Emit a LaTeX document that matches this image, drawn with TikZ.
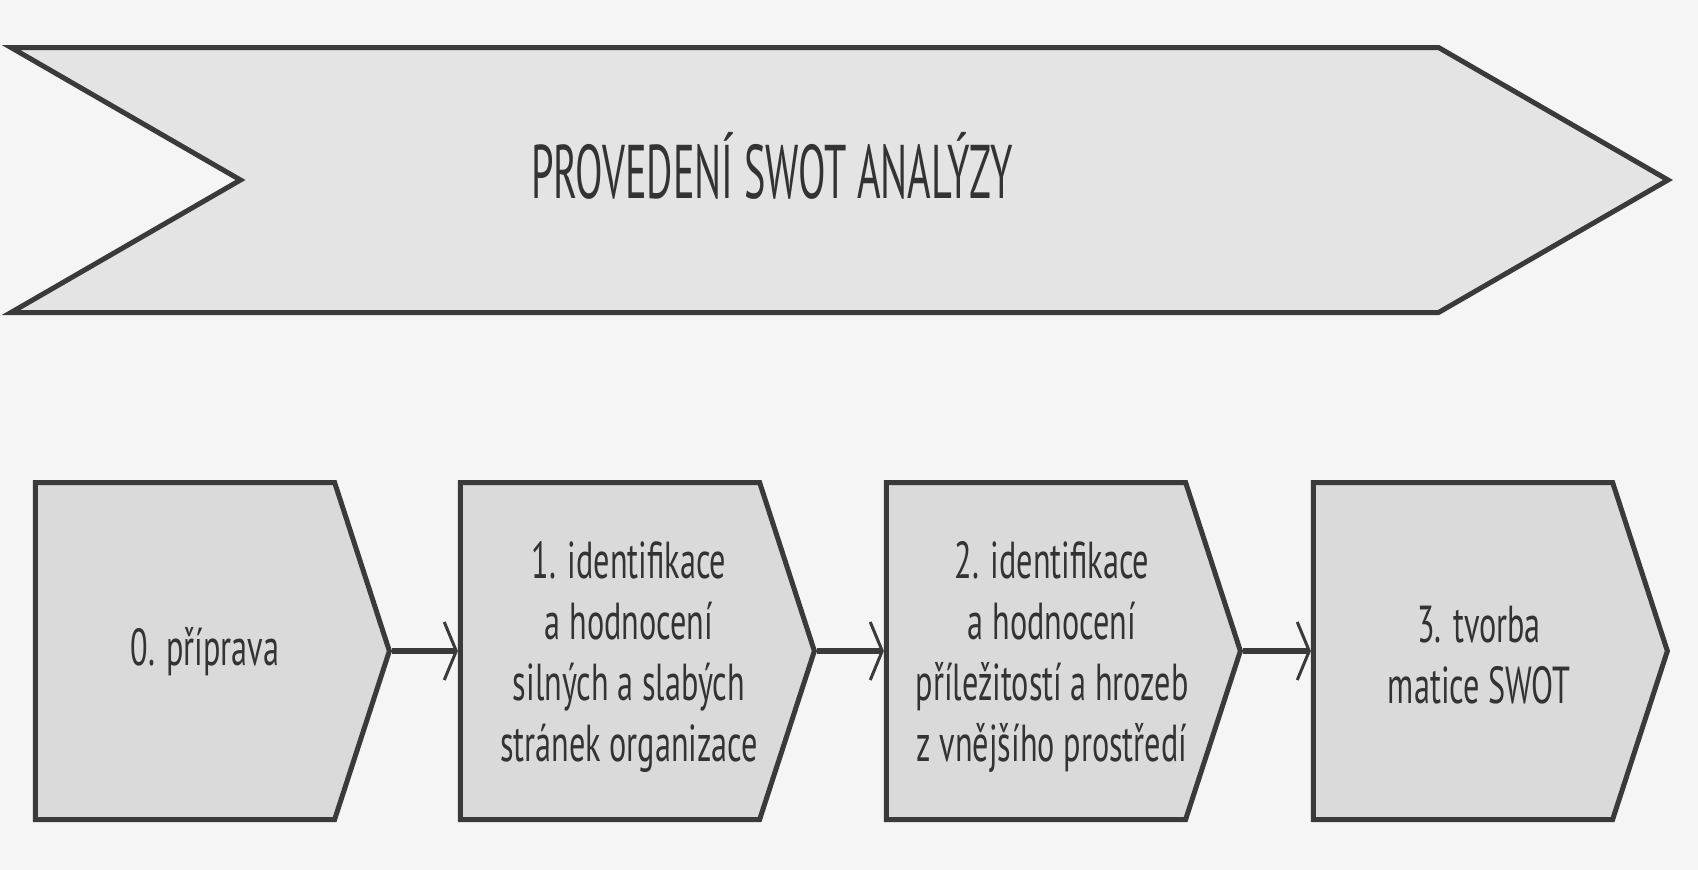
\documentclass[tikz,border=0pt]{standalone}
\usepackage{fontspec}
\setmainfont{PT Sans}
\newfontfamily\titlefont{PT Sans}[FakeStretch=0.53]
\newfontfamily\stepfont{PT Sans}[FakeStretch=0.62]
\usetikzlibrary{shapes.symbols,arrows.meta}

\definecolor{edge}{HTML}{3A3A3A}
\definecolor{bannerfill}{HTML}{E4E4E4}
\definecolor{boxfill}{HTML}{DADADA}
\definecolor{paper}{HTML}{F5F5F5}
\definecolor{ink}{HTML}{333333}

\tikzset{
  banner/.style={shape=signal, signal from=west, signal to=east,
    signal pointer angle=60, draw=edge, line width=5pt, fill=bannerfill,
    minimum width=1657pt, minimum height=265pt, inner sep=0pt},
  stepbox/.style={shape=signal, signal to=east, signal pointer angle=144,
    draw=edge, line width=5pt, fill=boxfill,
    minimum width=354pt, minimum height=337pt, inner sep=0pt},
  steptext/.style={text=ink, align=center, inner sep=0pt,
    font=\stepfont\fontsize{52}{61}\selectfont},
  conn/.style={draw=edge, line width=6pt,
    -{Straight Barb[length=12pt,width=58pt,line width=3pt]}},
}

\begin{document}
\begin{tikzpicture}[x=1pt,y=-1pt]
  \fill[paper] (0,0) rectangle (1698,870);
  \useasboundingbox (0,0) rectangle (1698,870);

  % top banner
  \node[banner] (ban) at (839.5,180) {};
  \node[text=ink, inner sep=0pt, anchor=base,
        font=\titlefont\fontsize{76}{80}\selectfont] (title) at (772,198)
    {PROVEDENÍ SWOT ANALÝZY};

  % process steps (shape centres sit on the rectangular part)
  \node[stepbox] (s0) at (185,651) {};
  \node[stepbox] (s1) at (610,651) {};
  \node[stepbox] (s2) at (1036,651) {};
  \node[stepbox] (s3) at (1463,651) {};

  \node[steptext] (t0) at (205,652) {0. příprava};
  \node[steptext] (t1) at (629,657)
    {1. identifikace\\a hodnocení\\silných a slabých\\stránek organizace};
  \node[steptext] (t2) at (1052,657)
    {2. identifikace\\a hodnocení\\příležitostí a hrozeb\\z vnějšího prostředí};
  \node[steptext] (t3) at (1479,655) {3. tvorba\\matice SWOT};

  \draw[conn] (s0.east) -- (s1.west);
  \draw[conn] (s1.east) -- (s2.west);
  \draw[conn] (s2.east) -- (s3.west);
\end{tikzpicture}
\end{document}
